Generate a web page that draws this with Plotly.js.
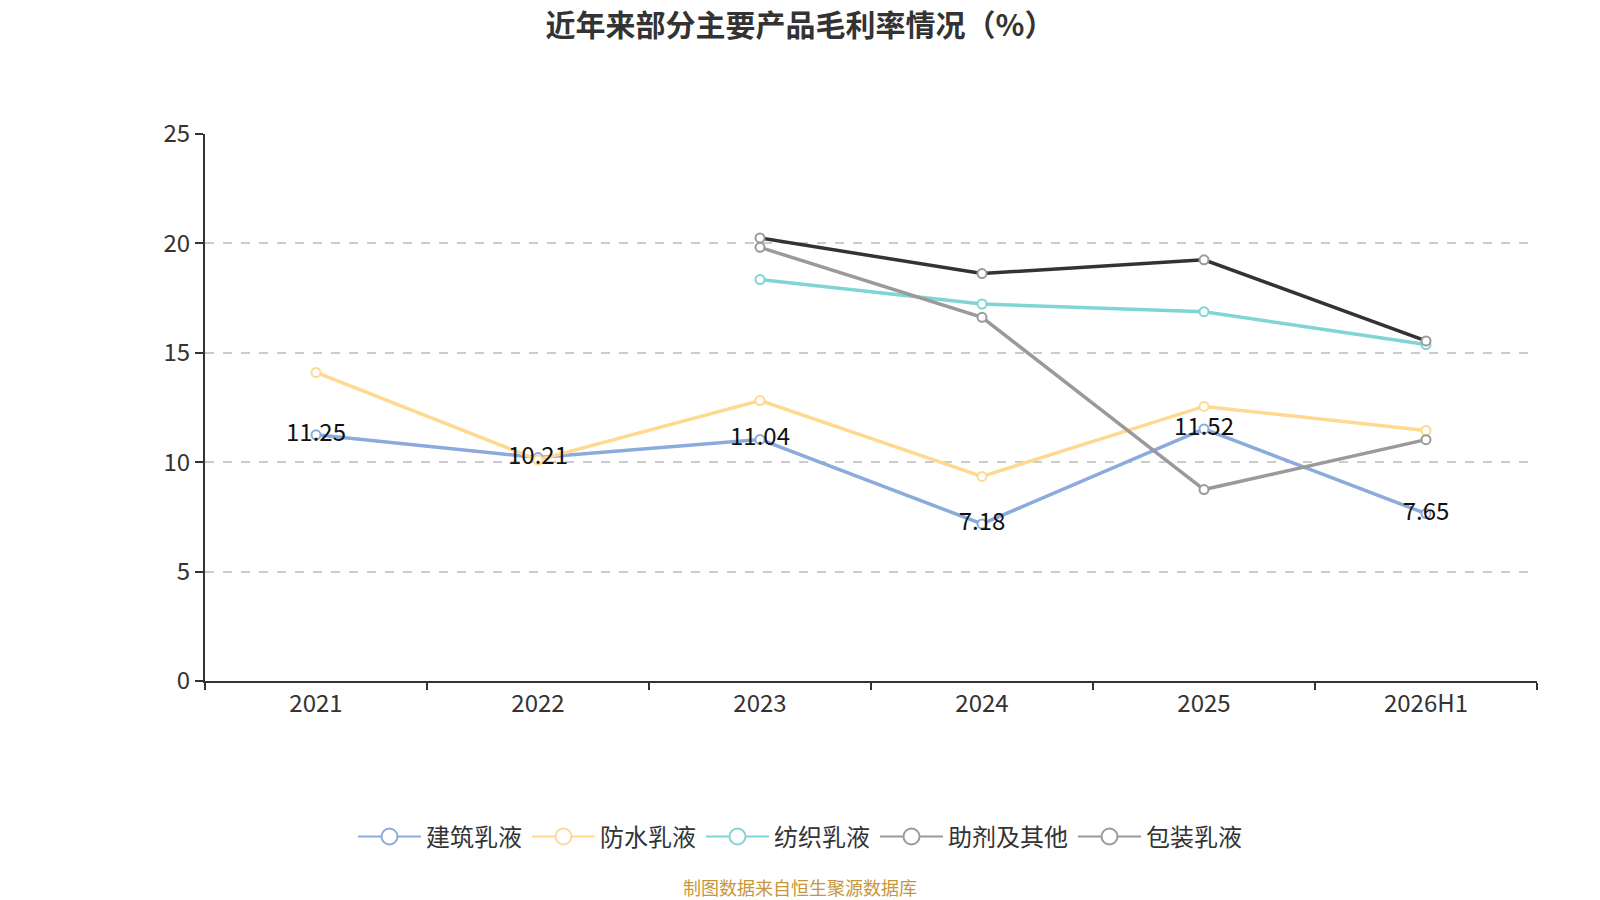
<!DOCTYPE html>
<html>
<head>
<meta charset="utf-8">
<script src="https://cdn.plot.ly/plotly-3.0.1.min.js"></script>
<style>
  html, body { margin: 0; padding: 0; background: #fff; }
  #chart { width: 1600px; height: 900px; }
</style>
</head>
<body>
<div id="chart"></div>
<script>
    // 年份
    let years = ['2021', '2022', '2023', '2024', '2025', '2026H1'];
    // 各产品毛利率（%），null 表示无数据
    let jianzhu = [11.25, 10.21, 11.04, 7.18, 11.52, 7.65];
    let fangshui = [14.1, 10.1, 12.82, 9.35, 12.55, 11.45];
    let fangzhi = [null, null, 18.35, 17.23, 16.88, 15.38];
    let zhuji = [null, null, 19.82, 16.62, 8.75, 11.03];
    let baozhuang = [null, null, 20.25, 18.62, 19.25, 15.54];
    let names = ['建筑乳液', '防水乳液', '纺织乳液', '助剂及其他', '包装乳液'];

    let font = '"Noto Sans CJK SC", "Noto Sans", sans-serif';

    function lineTrace(name, y, color, markerColor, group) {
        return {
            type: 'scatter',
            mode: 'lines+markers',
            name: name,
            x: years,
            y: y,
            legendgroup: group,
            showlegend: false,
            connectgaps: false,
            line: {color: color, width: 3.5},
            marker: {
                symbol: 'circle',
                size: 9,
                color: '#ffffff',
                line: {color: markerColor, width: 2}
            },
            hoverinfo: 'x+y+name'
        };
    }

    // 图例用的空系列（图例图标比数据点大）
    function legendTrace(name, color, group) {
        return {
            type: 'scatter',
            mode: 'lines+markers',
            name: name,
            x: years,
            y: years.map(() => null),
            legendgroup: group,
            showlegend: true,
            line: {color: color, width: 2},
            marker: {
                symbol: 'circle',
                size: 20,
                color: '#ffffff',
                line: {color: color, width: 2}
            }
        };
    }

    let blue = '#8aabdb';
    let yellow = '#ffd98f';
    let teal = '#7fd5d5';
    let gray = '#9a9a9a';
    let dark = '#333333';

    let traces = [
        lineTrace(names[0], jianzhu, blue, blue, 'g0'),
        lineTrace(names[1], fangshui, yellow, yellow, 'g1'),
        lineTrace(names[2], fangzhi, teal, teal, 'g2'),
        lineTrace(names[3], zhuji, gray, gray, 'g3'),
        lineTrace(names[4], baozhuang, dark, gray, 'g4'),
        {
            type: 'scatter',
            mode: 'text',
            x: years,
            y: jianzhu,
            text: jianzhu.map((v) => v.toFixed(2)),
            textposition: 'middle center',
            textfont: {family: font, size: 24, color: '#111111'},
            showlegend: false,
            hoverinfo: 'skip'
        },
        legendTrace(names[0], blue, 'g0'),
        legendTrace(names[1], yellow, 'g1'),
        legendTrace(names[2], teal, 'g2'),
        legendTrace(names[3], gray, 'g3'),
        legendTrace(names[4], gray, 'g4')
    ];

    let layout = {
        width: 1600,
        height: 900,
        paper_bgcolor: '#ffffff',
        plot_bgcolor: '#ffffff',
        margin: {l: 205, r: 63, t: 134, b: 219},
        font: {family: font, color: '#333333'},
        title: {
            text: '<b>近年来部分主要产品毛利率情况（%）</b>',
            font: {family: font, size: 30, color: '#333333'},
            x: 0.5,
            xref: 'container',
            xanchor: 'center',
            y: 0.972,
            yref: 'container',
            yanchor: 'middle'
        },
        xaxis: {
            type: 'category',
            range: [-0.5, 5.5],
            showgrid: false,
            zeroline: false,
            showline: true,
            linecolor: '#333333',
            linewidth: 2,
            ticks: 'outside',
            tickson: 'boundaries',
            ticklen: 7,
            tickwidth: 2,
            tickcolor: '#333333',
            tickfont: {family: font, size: 24, color: '#333333'}
        },
        yaxis: {
            range: [0, 25],
            dtick: 5,
            showgrid: true,
            gridcolor: '#cccccc',
            griddash: 'dash',
            gridwidth: 1.5,
            zeroline: false,
            showline: true,
            linecolor: '#333333',
            linewidth: 2,
            ticks: 'outside',
            ticklen: 8,
            tickwidth: 2,
            tickcolor: '#333333',
            tickfont: {family: font, size: 24, color: '#333333'}
        },
        legend: {
            orientation: 'h',
            x: 0.4467,
            xanchor: 'center',
            y: -0.285,
            yanchor: 'middle',
            itemwidth: 63,
            font: {family: font, size: 24, color: '#333333'},
            traceorder: 'normal'
        },
        annotations: [{
            text: '制图数据来自恒生聚源数据库',
            xref: 'paper',
            yref: 'paper',
            x: 0.4467,
            y: -0.377,
            xanchor: 'center',
            yanchor: 'middle',
            showarrow: false,
            font: {family: font, size: 18, color: '#c8963a'}
        }],
        showlegend: true,
        hovermode: 'closest'
    };

    Plotly.newPlot('chart', traces, layout, {displayModeBar: false, responsive: false});
</script>
</body>
</html>
